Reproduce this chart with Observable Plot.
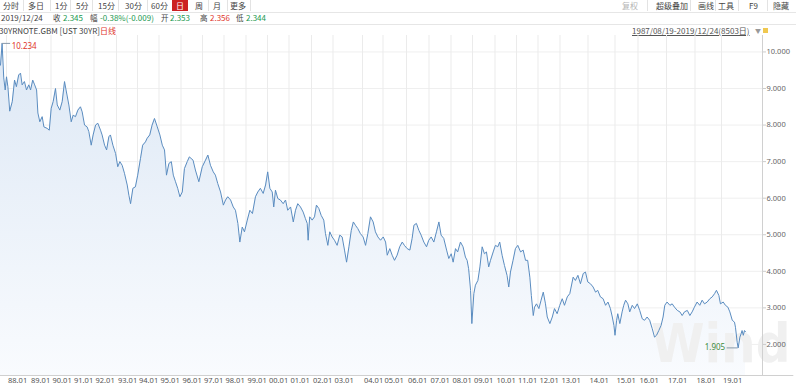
<!DOCTYPE html>
<html><head><meta charset="utf-8">
<script src="https://cdn.jsdelivr.net/npm/d3@7"></script>
<script src="https://cdn.jsdelivr.net/npm/@observablehq/plot@0.6"></script>
<style>
body{margin:0;width:796px;height:388px;overflow:hidden;background:#fff;font-family:"Noto Sans CJK SC","Noto Sans",sans-serif;position:relative;color:#444}
.t{position:absolute;font-size:8px;line-height:11px;white-space:nowrap}
.c{font-size:7.5px}
.r1{top:0}.r2{top:12px}.r3{top:25px}
.sep{position:absolute;top:0;width:1px;height:11px;background:#e3e3e3}
.hl{position:absolute;left:0;width:796px;height:1px;background:#e6e6e6}
.g{color:#22994f}.rd{color:#e0352b}
#chart{position:absolute;left:0;top:34px}
</style></head><body>
<!-- row 1 -->
<span class="t r1" style="left:3px">分时</span>
<span class="t r1" style="left:28px">多日</span>
<span class="t r1" style="left:55px">1分</span>
<span class="t r1" style="left:76px">5分</span>
<span class="t r1" style="left:98px">15分</span>
<span class="t r1" style="left:125px">30分</span>
<span class="t r1" style="left:151px">60分</span>
<span class="t r1" style="left:172px;width:16px;height:11px;background:#cc2222;color:#fff;text-align:center">日</span>
<span class="t r1" style="left:195px">周</span>
<span class="t r1" style="left:213px">月</span>
<span class="t r1" style="left:230px">更多</span>
<span class="sep" style="left:23px"></span><span class="sep" style="left:50px"></span><span class="sep" style="left:70px"></span>
<span class="sep" style="left:92px"></span><span class="sep" style="left:118px"></span><span class="sep" style="left:147px"></span>
<span class="sep" style="left:208px"></span><span class="sep" style="left:227px"></span><span class="sep" style="left:250px"></span>
<span class="t r1" style="left:622px;color:#b5b5b5">复权</span>
<span class="t r1" style="left:656px">超级叠加</span>
<span class="t r1" style="left:698px">画线</span>
<span class="t r1" style="left:718px">工具</span>
<span class="t r1" style="left:749px">F9</span>
<span class="t r1" style="left:773px">隐藏</span>
<span class="sep" style="left:647px"></span><span class="sep" style="left:690px"></span><span class="sep" style="left:715px"></span>
<span class="sep" style="left:738px"></span><span class="sep" style="left:767px"></span>
<div class="hl" style="top:12px"></div>
<!-- row 2 -->
<span class="t r2" style="left:1px">2019/12/24</span>
<span class="t r2 c" style="left:53px">收</span><span class="t r2 g" style="left:63px">2.345</span>
<span class="t r2 c" style="left:90px">幅</span><span class="t r2 g" style="left:100px">-0.38%(-0.009)</span>
<span class="t r2 c" style="left:161px">开</span><span class="t r2 g" style="left:170px">2.353</span>
<span class="t r2 c" style="left:200px">高</span><span class="t r2 rd" style="left:210px">2.356</span>
<span class="t r2 c" style="left:236px">低</span><span class="t r2 g" style="left:246px">2.344</span>
<div class="hl" style="top:24px"></div>
<!-- row 3 -->
<span class="t r3" style="left:-1px">30YRNOTE.GBM [UST 30YR]</span>
<span class="t r3 rd" style="left:100px">日线</span>
<span class="t r3" style="left:632px;text-decoration:underline;color:#555">1987/08/19-2019/12/24(8503日)</span>
<span class="t r3" style="left:755px;color:#999;font-size:6px">▼</span>
<span style="position:absolute;left:763px;top:28px;width:5px;height:5px;background:#f0c850"></span>
<div id="chart"></div>
<script>
// decimal-year dates and 30Y UST yields (%)
const dates = [1987.63,1987.73,1987.83,1987.92,1988.00,1988.06,1988.14,1988.25,1988.35,1988.43,1988.53,1988.61,1988.68,1988.78,1988.87,1988.97,
1989.05,1989.15,1989.24,1989.33,1989.39,1989.48,1989.59,1989.67,1989.82,1989.92,1990.01,1990.10,1990.21,1990.29,1990.41,1990.52,1990.63,1990.70,1990.83,1990.94,
1991.03,1991.14,1991.25,1991.37,1991.45,1991.56,1991.68,1991.76,1991.87,1991.96,1992.07,1992.17,1992.29,1992.36,1992.47,1992.56,1992.66,1992.73,1992.84,1992.96,
1993.06,1993.16,1993.27,1993.38,1993.51,1993.59,1993.67,1993.78,1993.90,1994.01,1994.14,1994.24,1994.37,1994.45,1994.57,1994.68,1994.79,1994.92,
1995.04,1995.15,1995.25,1995.34,1995.45,1995.56,1995.65,1995.75,1995.85,1995.95,1996.06,1996.16,1996.29,1996.39,1996.56,1996.67,1996.83,1996.99,
1997.14,1997.25,1997.37,1997.50,1997.60,1997.71,1997.84,1997.97,1998.07,1998.17,1998.30,1998.42,1998.52,1998.63,1998.72,1998.83,1998.93,
1999.06,1999.18,1999.30,1999.44,1999.55,1999.67,1999.80,1999.91,2000.01,2000.11,2000.22,2000.29,2000.37,2000.48,2000.60,2000.73,2000.84,2000.94,
2001.07,2001.19,2001.29,2001.39,2001.51,2001.63,2001.73,2001.81,2001.85,2001.92,2002.03,2002.14,2002.23,2002.34,2002.45,2002.57,2002.65,2002.76,2002.85,2002.96,
2003.05,2003.14,2003.23,2003.31,2003.39,2003.46,2003.54,2003.62,2003.69,2003.76,2003.84,2003.93,2004.03,2004.15,2004.26,2004.39,2004.52,2004.63,2004.75,2004.88,
2005.01,2005.11,2005.18,2005.29,2005.39,2005.49,2005.60,2005.71,2005.82,2005.91,2006.03,2006.15,2006.25,2006.33,2006.44,2006.55,2006.65,2006.77,2006.89,2006.99,
2007.10,2007.22,2007.34,2007.45,2007.55,2007.67,2007.80,2007.90,2008.01,2008.10,2008.21,2008.31,2008.44,2008.56,2008.67,2008.75,2008.82,2008.91,2008.97,
2009.06,2009.13,2009.24,2009.33,2009.43,2009.53,2009.62,2009.72,2009.80,2009.92,2010.02,2010.13,2010.22,2010.33,2010.44,2010.56,2010.64,2010.72,2010.84,2010.95,
2011.06,2011.19,2011.31,2011.42,2011.52,2011.62,2011.69,2011.78,2011.84,2011.93,2012.04,2012.14,2012.24,2012.34,2012.42,2012.54,2012.65,2012.75,2012.87,2012.99,
2013.08,2013.16,2013.26,2013.35,2013.47,2013.55,2013.64,2013.73,2013.83,2013.91,2013.99,2014.09,2014.19,2014.28,2014.36,2014.46,2014.56,2014.65,2014.74,2014.83,2014.90,2014.96,
2015.00,2015.07,2015.12,2015.21,2015.31,2015.38,2015.46,2015.56,2015.64,2015.75,2015.85,2015.97,2016.06,2016.15,2016.23,2016.32,2016.41,2016.50,2016.58,2016.65,2016.73,2016.81,2016.88,2016.94,
2017.02,2017.12,2017.20,2017.28,2017.38,2017.47,2017.55,2017.63,2017.73,2017.82,2017.90,2017.98,2018.08,2018.18,2018.27,2018.36,2018.46,2018.56,2018.65,2018.74,2018.81,2018.90,2018.96,
2019.07,2019.16,2019.26,2019.34,2019.44,2019.53,2019.57,2019.64,2019.68,2019.75,2019.80,2019.84,2019.89,2019.94,2019.98];
const yields = [9.64,10.234,9.29,8.96,9.32,9.05,8.38,8.64,9.23,9.05,9.37,9.42,9.10,9.19,8.96,9.10,
8.96,9.23,9.10,8.96,8.33,8.09,8.23,7.95,7.91,7.86,8.46,8.64,9.00,8.55,8.41,8.64,9.19,8.96,8.55,8.09,
8.27,8.23,8.41,8.50,8.36,8.00,7.95,7.82,7.45,7.73,8.00,8.05,7.86,7.73,7.45,7.32,7.68,7.73,7.45,7.22,
6.86,7.00,6.90,6.68,6.36,6.08,5.85,6.27,6.31,6.63,7.09,7.45,7.54,7.64,7.73,8.00,8.18,7.95,
7.73,7.45,7.32,6.63,6.95,7.00,6.63,6.45,6.27,6.04,6.17,6.81,7.00,7.13,7.04,6.77,6.45,6.86,
7.04,7.18,6.90,6.72,6.63,6.40,6.17,5.81,5.95,6.04,5.95,5.76,5.67,5.31,4.80,5.21,5.08,
5.40,5.67,5.58,6.04,6.17,6.27,6.13,6.36,6.72,6.27,6.17,5.76,6.22,5.99,5.95,5.85,5.95,5.67,
5.76,5.35,5.67,5.85,5.76,5.62,5.44,5.31,4.85,5.49,5.40,5.49,5.81,5.72,5.53,5.40,5.03,4.71,5.08,4.94,
4.85,4.71,4.99,4.94,4.58,4.25,4.67,5.12,5.35,5.26,5.17,5.03,4.94,4.71,5.03,5.49,5.35,5.08,4.94,4.85,
4.94,4.80,4.44,4.62,4.44,4.30,4.44,4.67,4.80,4.71,4.62,4.58,4.90,5.26,5.31,5.12,4.99,4.80,4.67,4.85,
4.94,4.80,5.08,5.35,4.99,4.90,4.58,4.35,4.48,4.25,4.62,4.53,4.80,4.67,4.39,4.30,4.07,3.48,2.57,
3.39,3.62,3.75,4.12,4.67,4.48,4.53,4.12,4.30,4.53,4.71,4.67,4.80,4.44,4.16,3.89,3.57,3.98,4.30,4.62,
4.71,4.53,4.58,4.30,4.30,3.84,3.34,2.79,3.02,3.11,2.98,3.21,3.43,3.11,2.75,2.57,2.75,2.98,2.84,3.07,
3.25,3.07,3.30,3.39,3.84,3.75,3.89,3.66,3.94,3.98,3.71,3.66,3.57,3.43,3.48,3.30,3.25,3.07,3.16,2.98,2.75,2.52,
2.25,2.66,2.84,2.57,2.89,3.07,3.21,3.11,2.89,3.07,2.98,3.11,2.93,2.70,2.66,2.75,2.66,2.43,2.20,2.25,2.38,2.52,2.75,3.07,
3.16,3.07,3.11,3.02,2.93,2.89,2.79,2.89,2.93,2.79,2.89,3.02,3.16,3.07,3.21,3.11,3.16,3.25,3.30,3.39,3.48,3.34,3.11,
3.16,3.07,3.02,2.89,2.66,2.61,2.47,2.06,1.905,2.20,2.29,2.38,2.25,2.38,2.345];
const tickYears = d3.range(1988, 2020);
const tickLabels = ["88.01","89.01","90.01","91.01","92.01","93.01","94.01","95.01","96.01","97.01","98.01","99.01","00.01","01.01","02.01","03.01",
"04.01","05.01","06.01","07.01","08.01","09.01","10.01","11.01","12.01","13.01","14.01","15.01","16.01","17.01","18.01","19.01"];
const yTicks = [2, 3, 4, 5, 6, 7, 8, 9, 10];

const data = dates.map((t, i) => ({t, v: yields[i]}));
const peak = data[d3.maxIndex(data, d => d.v)];
const trough = data[d3.minIndex(data, d => d.v)];

// piecewise time axis (trading-day spacing of the original terminal)
const xDomain = [1987.63, ...d3.range(1988, 2021), 2020.69];
const xRange = [0, 6, 29, 50.5, 72, 93.5, 116, 137, 158.5, 180.5, 202, 223.5, 245.5, 267, 288.5, 311, 332.5, 362, 382.5, 406,
  428.5, 450.5, 472, 494.5, 516, 537.5, 559.5, 587.5, 614.5, 637.5, 666, 694.5, 721, 745.5, 762];
const yMin = 1.15, yMax = 10.45;

const chart = Plot.plot({
  width: 796, height: 354,
  marginTop: 1, marginBottom: 13, marginLeft: 0, marginRight: 34,
  style: {fontFamily: "'Noto Sans', sans-serif", fontSize: "7.5px", color: "#666", background: "transparent"},
  x: {type: "linear", domain: xDomain, range: xRange, label: null},
  y: {domain: [yMin, yMax], label: null},
  marks: [
    Plot.ruleY(yTicks, {stroke: "#efefef"}),
    Plot.ruleX(tickYears, {stroke: "#ebebeb"}),
    Plot.areaY(data, {x: "t", y1: yMin, y2: "v", fill: "url(#fillg)"}),
    Plot.text(["Wind"], {text: d => d, frameAnchor: "bottom-right", textAnchor: "end", lineAnchor: "bottom", dx: 28, dy: -14,
      fontSize: 54, fontWeight: "bold", fill: "#f0f0f0", fontFamily: "'Liberation Sans Narrow','DejaVu Sans Condensed',sans-serif"}),
    Plot.line(data, {x: "t", y: "v", stroke: "#5a8cc0", strokeWidth: 1}),
    Plot.ruleX([xDomain[xDomain.length - 1]], {stroke: "#d0d0d0"}),
    Plot.ruleY([yMin], {x1: xDomain[0], x2: 2022, stroke: "#d0d0d0"}),
    Plot.axisX(tickYears, {label: null, tickSize: 0, tickPadding: 2, textAnchor: "start", dx: 1.5, fill: "#555",
      tickFormat: d => tickLabels[tickYears.indexOf(d)]}),
    Plot.axisY(yTicks, {label: null, anchor: "right", tickSize: 3, tickPadding: 1, stroke: "#cccccc", fill: "#666", tickFormat: d3.format(".3f")}),
    Plot.ruleY([peak], {y: "v", x1: "t", x2: d => d.t + 0.45, stroke: "#8899aa"}),
    Plot.text([peak], {x: d => d.t + 0.45, y: "v", text: d => d3.format(".3f")(d.v), dx: 1, dy: 3, textAnchor: "start", fill: "#e0352b", fontSize: 8}),
    Plot.ruleY([trough], {y: "v", x1: d => d.t - 0.45, x2: "t", stroke: "#8899aa"}),
    Plot.text([trough], {x: d => d.t - 0.45, y: "v", text: d => d3.format(".3f")(d.v), dx: -2, textAnchor: "end", fill: "#3d8b3d", fontSize: 8})
  ]
});
const ns = "http://www.w3.org/2000/svg";
const defs = document.createElementNS(ns, "defs");
defs.innerHTML = '<linearGradient id="fillg" x1="0" y1="0" x2="0" y2="1"><stop offset="0" stop-color="#dde8f5"/><stop offset="1" stop-color="#f9fbfe"/></linearGradient>';
chart.prepend(defs);
document.getElementById("chart").append(chart);
</script>
</body></html>
